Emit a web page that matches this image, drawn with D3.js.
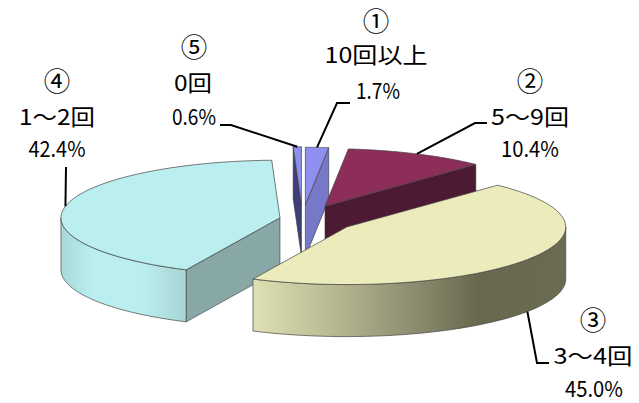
<!DOCTYPE html>
<html><head><meta charset="utf-8">
<script src="https://cdn.jsdelivr.net/npm/d3@7"></script>
<style>html,body{margin:0;padding:0;background:#fff}svg{display:block}text{font-family:"Noto Sans CJK JP","Noto Sans CJK SC",sans-serif;font-size:22px;fill:#000;text-anchor:middle}</style>
</head><body><svg id="c" width="639" height="403"></svg>
<script>
const badges = ["①","②","③","④","⑤"];
const categories = ["10回以上","5～9回","3～4回","1～2回","0回"];
const values = [1.7,10.4,45.0,42.4,0.6];
const valueLabels = ["1.7%","10.4%","45.0%","42.4%","0.6%"];
const explode = [0.245,0.245,0.245,0.105,0.255];

const topColors = ["#8f8ff0","#8c2d5a","#ebebbb","#bbeeee","#8f8ff0"];
const sideColors = ["#7878c8","#4d1a33","#6b6b52","#88a8a8","#3e3e78"];
const layout = {cx:302.5, cy:219, rx:219, ry:57.6, depth:52};
const labelLayout = [
  {x:[376,376,378], y:[31,63,99], w:[0,103,44], leader:[[337,103],[350,103]]},
  {x:[530,530,530], y:[91,125,157], w:[0,78,58], leader:[[475,123],[487,123]]},
  {x:[593,593,594], y:[330,364,397], w:[0,79,58], leader:[[537,363],[549,363]]},
  {x:[57,57,57], y:[91,125,157], w:[0,76,57], leader:[[66,167]]},
  {x:[194,193,194], y:[57,91,125], w:[0,38,44], leader:[[231,125],[220,125]]}
];
const svg = d3.select("#c");
const defs = svg.append("defs");
function grad(id,x1,x2,stops){
  const g = defs.append("linearGradient").attr("id",id).attr("gradientUnits","userSpaceOnUse")
    .attr("x1",x1).attr("x2",x2).attr("y1",0).attr("y2",0);
  stops.forEach(s=>g.append("stop").attr("offset",s[0]).attr("stop-color",s[1]));
}
grad("g3",253,566,[[0,"#e0e0b4"],[0.25,"#b9b994"],[0.5,"#8f8f72"],[0.72,"#68684f"],[1,"#6b6b52"]]);
grad("g4",61,186,[[0,"#a8d8d8"],[0.25,"#bbeeee"],[0.65,"#bbeeee"],[1,"#a8d4d4"]]);

const pie = d3.pie().sort(null).value(d=>d).startAngle(0).endAngle(2*Math.PI);
const arcs = pie(values);
const line = d3.line().x(d=>d[0]).y(d=>d[1]);
const slices = arcs.map((a,i)=>{
  const mid=(a.startAngle+a.endAngle)/2;
  return {i,a,mid,ax:layout.cx+explode[i]*layout.rx*Math.sin(mid),ay:layout.cy-explode[i]*layout.ry*Math.cos(mid)};
});
const pt=(s,t,dz=0)=>[s.ax+layout.rx*Math.sin(t),s.ay-layout.ry*Math.cos(t)+dz];
const samples=(t0,t1)=>d3.range(0,61).map(k=>t0+(t1-t0)*k/60);

// painter's order: back/left to front
[3,4,0,1,2].forEach(i=>{
  const s=slices[i], t0=s.a.startAngle, t1=s.a.endAngle, d=layout.depth, g=svg.append("g");
  const apex=[s.ax,s.ay], apexB=[s.ax,s.ay+d];
  let wall=null;
  if(i===3) wall=[pt(s,t0),apex,apexB,pt(s,t0,d)];
  if(i===4) wall=[pt(s,t0),pt(s,t0,d),apexB,apex];
  if(i===0||i===1) wall=[apex,pt(s,t1),pt(s,t1,d),apexB];
  if(wall) g.append("path").attr("d",line(wall)+"Z").attr("fill",sideColors[i]).attr("stroke","#333").attr("stroke-width",.6);
  const f0=Math.max(t0,Math.PI/2), f1=Math.min(t1,3*Math.PI/2);
  if(f1>f0){
    const top=samples(f0,f1).map(t=>pt(s,t)), bot=samples(f1,f0).map(t=>pt(s,t,d));
    g.append("path").attr("d",line(top.concat(bot))+"Z").attr("fill",i===2?"url(#g3)":"url(#g4)")
      .attr("stroke","#444").attr("stroke-width",.7);
  }
  g.append("path").attr("d",line([apex].concat(samples(t0,t1).map(t=>pt(s,t))))+"Z")
    .attr("fill",topColors[i]).attr("stroke","#444").attr("stroke-width",.7).attr("stroke-linejoin","round");
});

slices.forEach(s=>{
  const i=s.i;
  let st = i===2 ? pt(s,s.mid,layout.depth) : pt(s,s.mid);
  svg.append("path").attr("d",line([st].concat(labelLayout[i].leader)))
    .attr("fill","none").attr("stroke","#000").attr("stroke-width",2);
  const L=labelLayout[i];
  [badges[i],categories[i],valueLabels[i]].forEach((t,k)=>{
    const n=svg.append("text").attr("x",L.x[k]).attr("y",L.y[k]).text(t);
    if(k===0) n.style("font-size","26.5px");
    else n.attr("textLength",L.w[k]).attr("lengthAdjust","spacingAndGlyphs");
  });
});
</script></body></html>
